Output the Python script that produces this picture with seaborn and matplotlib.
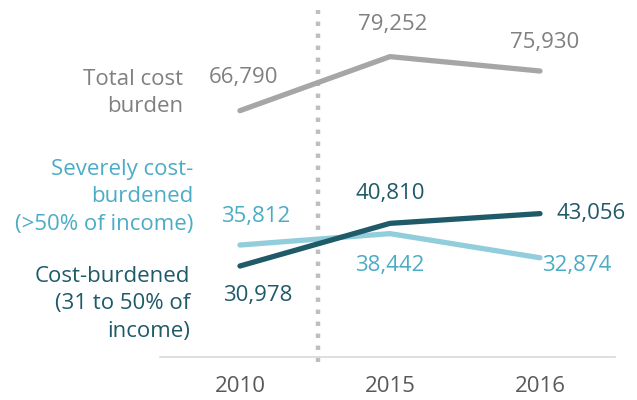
import numpy as np
import pandas as pd
import matplotlib
matplotlib.use("Agg")
import matplotlib.pyplot as plt
import seaborn as sns

# data
years = ["2010", "2015", "2016"]
total_burden = [66790, 79252, 75930]
severe_burden = [35812, 38442, 32874]
cost_burden = [30978, 40810, 43056]

series_names = ["Total cost\nburden",
                "Severely cost-\nburdened\n(>50% of income)",
                "Cost-burdened\n(31 to 50% of\nincome)"]
line_colors = ["#a6a6a6", "#92cddc", "#1f5a69"]
text_colors = ["#808080", "#4bacc6", "#1f5a69"]

pos = np.arange(len(years))
df = pd.concat([
    pd.DataFrame({"pos": pos, "value": vals, "series": name})
    for name, vals in zip(series_names, [total_burden, severe_burden, cost_burden])
])

sns.set_style("white")
plt.rcParams["font.family"] = ["Open Sans", "DejaVu Sans"]
fsize = 16

fig = plt.figure(figsize=(6.37, 4.0), dpi=100)
ax = fig.add_axes([160 / 637, 1 - 357 / 400, 455 / 637, 347 / 400])

sns.lineplot(data=df, x="pos", y="value", hue="series", palette=line_colors,
             linewidth=3.8, legend=False, ax=ax, solid_capstyle="round")

# dotted divider between 2010 and 2015
ax.axvline(0.52, ymin=-0.015, ymax=1.0, color="#bfbfbf", lw=3.2,
           linestyle=(0, (1, 1.7)), clip_on=False, zorder=0)

ax.set_xlim(-0.533, 2.5)
ax.set_ylim(10000, 90000)
ax.set_xticks(pos)
ax.set_xticklabels(years, fontsize=fsize, color="#595959")
ax.tick_params(axis="x", length=0, pad=14)
ax.set_yticks([])
ax.set_xlabel("")
ax.set_ylabel("")
for side in ["top", "right", "left"]:
    ax.spines[side].set_visible(False)
ax.spines["bottom"].set_color("#d9d9d9")
ax.spines["bottom"].set_linewidth(1.2)

# value labels: (series values, color, offsets in pixels, alignments)
label_specs = [
    (total_burden, text_colors[0], [(4, 33), (3, 32), (5, 29)], ["center"] * 3),
    (severe_burden, text_colors[1], [(16, 29), (0, -32), (2, -8)], ["center", "center", "left"]),
    (cost_burden, text_colors[2], [(18, -29), (0, 30), (17, 0)], ["center", "center", "left"]),
]
for vals, col, offs, has in label_specs:
    for i, v in enumerate(vals):
        ax.annotate(f"{v:,}", xy=(pos[i], v), xytext=offs[i], textcoords="offset pixels",
                    ha=has[i], va="center", fontsize=fsize, color=col, annotation_clip=False)

# series names on the left
name_pos = [(183, 93), (193, 197), (190, 304)]
for name, col, (px, py) in zip(series_names, text_colors, name_pos):
    fig.text(px / 637, 1 - py / 400, name, ha="right", va="center", multialignment="right",
             fontsize=fsize, color=col, linespacing=1.38)

fig.savefig("out.png", dpi=100)
